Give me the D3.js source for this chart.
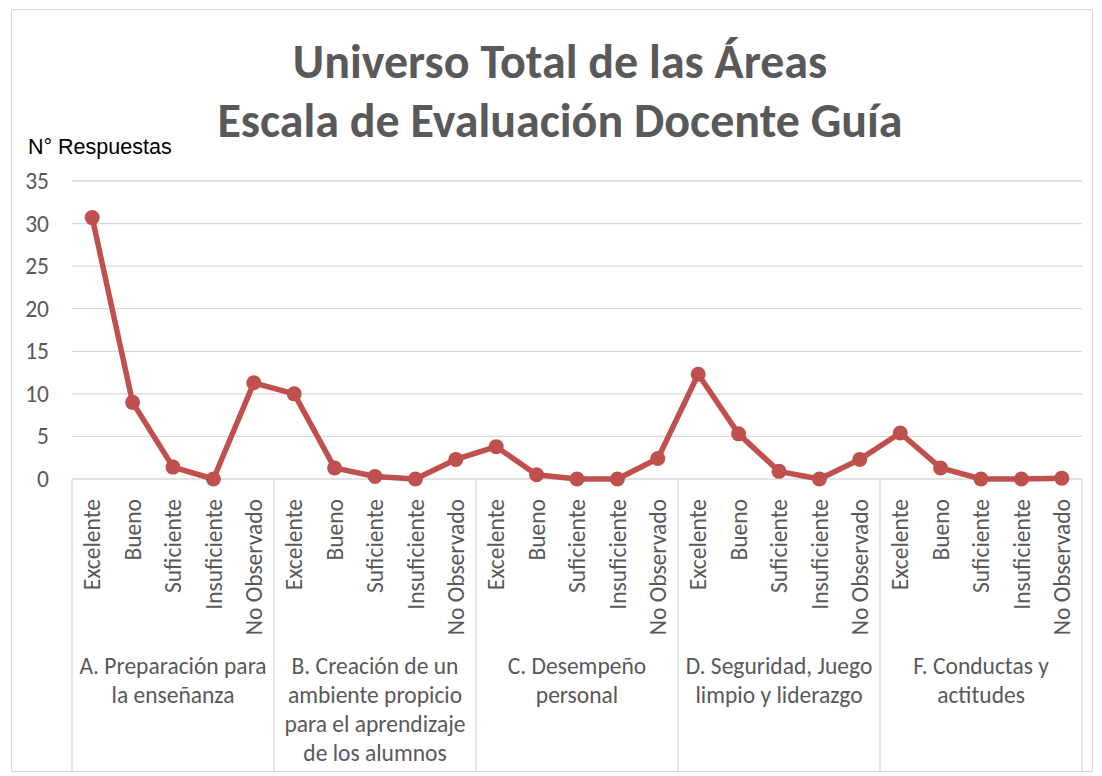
<!DOCTYPE html>
<html><head><meta charset="utf-8">
<script src="https://cdn.jsdelivr.net/npm/d3@7"></script>
<style>body{margin:0;background:#fff}svg{display:block}</style>
</head><body>
<script>
const groups = [
  ["A. Preparación para", "la enseñanza"],
  ["B. Creación de un", "ambiente propicio", "para el aprendizaje", "de los alumnos"],
  ["C. Desempeño", "personal"],
  ["D. Seguridad, Juego", "limpio y liderazgo"],
  ["F. Conductas y", "actitudes"]
];
const levels = ["Excelente", "Bueno", "Suficiente", "Insuficiente", "No Observado"];
const valuesA = [30.7, 9, 1.4, 0, 11.3];
const valuesB = [10, 1.3, 0.3, 0, 2.3];
const valuesC = [3.8, 0.5, 0, 0, 2.4];
const valuesD = [12.3, 5.3, 0.9, 0, 2.3];
const valuesF = [5.4, 1.3, 0, 0, 0.1];
const yTicks = [0, 5, 10, 15, 20, 25, 30, 35];
const titleLines = ["Universo Total de las Áreas", "Escala de Evaluación Docente Guía"];
const yTitle = "N° Respuestas";

(function () {
const allValues = [valuesA, valuesB, valuesC, valuesD, valuesF];
const data = [];
allValues.forEach((vals, gi) => vals.forEach((v, li) => data.push({key: gi + "-" + li, g: gi, level: levels[li], value: v})));

const W = 1102, H = 776;
const font = "Carlito, Calibri, Lato, sans-serif";
const gray = "#595959";
const svg = d3.select("body").append("svg").attr("width", W).attr("height", H);

svg.append("rect").attr("x", 11.5).attr("y", 9.5).attr("width", 1081).attr("height", 762)
  .attr("fill", "#fff").attr("stroke", "#d9d9d9");

const pl = 72, pr = 1082, pt = 181, pb = 479;
const x = d3.scaleBand().domain(data.map(d => d.key)).range([pl, pr]);
const y = d3.scaleLinear().domain([0, 35]).range([pb, pt]);

svg.append("g").selectAll("line").data(yTicks).join("line")
  .attr("x1", pl).attr("x2", pr).attr("y1", d => y(d)).attr("y2", d => y(d))
  .attr("stroke", "#d9d9d9").attr("stroke-width", 1.3);

const yAxis = svg.append("g").attr("transform", `translate(${pl},0)`)
  .call(d3.axisLeft(y).tickValues(yTicks).tickSize(0).tickPadding(23));
yAxis.select(".domain").remove();
yAxis.selectAll("text").attr("font-family", font).attr("font-size", 23.5).attr("fill", gray);

const gBounds = d3.range(groups.length + 1).map(i => i < groups.length ? x(i + "-0") : pr);
svg.append("g").selectAll("line").data(gBounds).join("line")
  .attr("x1", d => d).attr("x2", d => d).attr("y1", pb).attr("y2", 771)
  .attr("stroke", "#d9d9d9").attr("stroke-width", 1.3);

const xAxis = svg.append("g").attr("transform", `translate(0,${pb})`)
  .call(d3.axisBottom(x).tickSize(0).tickFormat(k => data.find(d => d.key === k).level));
xAxis.select(".domain").remove();
xAxis.selectAll("text")
  .attr("font-family", font).attr("font-size", 23.5).attr("fill", gray)
  .attr("text-anchor", "end").attr("dy", "0.35em")
  .attr("transform", "rotate(-90)").attr("x", -20).attr("y", 0);

groups.forEach((lines, gi) => {
  const cx = (gBounds[gi] + gBounds[gi + 1]) / 2;
  const t = svg.append("text").attr("text-anchor", "middle")
    .attr("font-family", font).attr("font-size", 23.5).attr("fill", gray);
  lines.forEach((ln, i) => t.append("tspan").attr("x", cx).attr("y", 674 + i * 29).text(ln));
});

const line = d3.line().x(d => x(d.key) + x.bandwidth() / 2).y(d => y(d.value));
svg.append("path").datum(data).attr("d", line).attr("fill", "none")
  .attr("stroke", "#C0504D").attr("stroke-width", 5.5).attr("stroke-linejoin", "round");
svg.append("g").selectAll("circle").data(data).join("circle")
  .attr("cx", d => x(d.key) + x.bandwidth() / 2).attr("cy", d => y(d.value)).attr("r", 7.5)
  .attr("fill", "#C0504D");

const title = svg.append("text").attr("text-anchor", "middle").attr("font-family", font)
  .attr("font-weight", "bold").attr("font-size", 48).attr("fill", gray);
titleLines.forEach((t, i) => title.append("tspan").attr("x", 560).attr("y", 78 + i * 59).text(t));

svg.append("text").attr("x", 28).attr("y", 154).attr("font-family", "Liberation Sans, Arial, sans-serif")
  .attr("font-size", 21.5).attr("fill", "#000").text(yTitle);
})();
</script>
</body></html>
